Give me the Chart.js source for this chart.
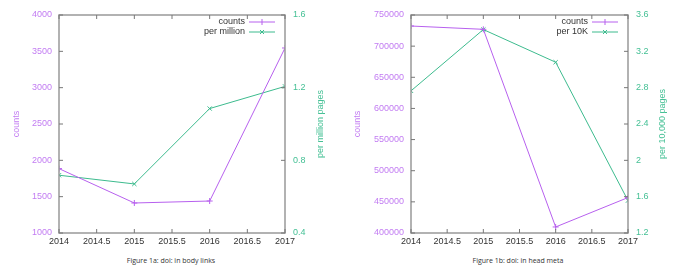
<!DOCTYPE html>
<html>
<head>
<meta charset="utf-8">
<script src="https://cdn.jsdelivr.net/npm/chart.js@4"></script>
<style>
  body { margin: 0; background: #fff; width: 673px; height: 268px; position: relative; overflow: hidden; }
  canvas { position: absolute; top: 0; }
  .cap { position: absolute; top: 256px; font: 7px "Open Sans", sans-serif; color: #333; white-space: nowrap; transform: translateX(-50%); }
</style>
</head>
<body>
<canvas id="chartA" width="335" height="254" style="left:0"></canvas>
<canvas id="chartB" width="338" height="254" style="left:335px"></canvas>
<div class="cap" style="left:171px">Figure 1a: doi: in body links</div>
<div class="cap" style="left:518px">Figure 1b: doi: in head meta</div>
<script>
// anos (eixo x)
const years = [2014, 2015, 2016, 2017];
const xTicks = [2014, 2014.5, 2015, 2015.5, 2016, 2016.5, 2017];

// figura 1a
const bodyCounts = [1886, 1413, 1440, 3546];
const bodyPerMillion = [0.718, 0.670, 1.085, 1.207];
const bodyCountTicks = [1000, 1500, 2000, 2500, 3000, 3500, 4000];
const bodyRateTicks = [0.4, 0.8, 1.2, 1.6];

// figura 1b
const headCounts = [732300, 727000, 409700, 456900];
const headPer10K = [2.765, 3.44, 3.08, 1.557];
const headCountTicks = [400000, 450000, 500000, 550000, 600000, 650000, 700000, 750000];
const headRateTicks = [1.2, 1.6, 2.0, 2.4, 2.8, 3.2, 3.6];

const roxo = '#b760ee';
const roxoTexto = '#c27cf2';
const verde = '#3dbb8e';
const verdeTexto = '#45c095';
const fonte = 'Liberation Sans, Arial, sans-serif';

function pts(vals) {
    return years.map((y, i) => ({ x: y, y: vals[i] }));
}
function fmt(v) {
    return String(parseFloat(v.toFixed(2)));
}

// moldura, ticks para dentro, titulos dos eixos e legenda estilo gnuplot
const gnuplotLook = {
    id: 'gnuplotLook',
    afterDraw(chart, args, opts) {
        const ctx = chart.ctx;
        const a = chart.chartArea;
        const sx = chart.scales.x, sy = chart.scales.y, sy2 = chart.scales.y2;
        ctx.save();
        ctx.strokeStyle = '#999';
        ctx.lineWidth = 1.5;
        ctx.strokeRect(a.left, a.top, a.right - a.left, a.bottom - a.top);
        ctx.lineWidth = 1;
        ctx.strokeStyle = '#777';
        ctx.beginPath();
        sx.ticks.forEach(t => {
            const px = sx.getPixelForValue(t.value);
            ctx.moveTo(px, a.bottom); ctx.lineTo(px, a.bottom - 4);
            ctx.moveTo(px, a.top); ctx.lineTo(px, a.top + 4);
        });
        sy.ticks.forEach(t => {
            const py = sy.getPixelForValue(t.value);
            ctx.moveTo(a.left, py); ctx.lineTo(a.left + 4, py);
        });
        sy2.ticks.forEach(t => {
            const py = sy2.getPixelForValue(t.value);
            ctx.moveTo(a.right, py); ctx.lineTo(a.right - 4, py);
        });
        ctx.stroke();

        // titulos
        ctx.font = '9px ' + fonte;
        ctx.textAlign = 'center';
        ctx.textBaseline = 'middle';
        const my = 124;
        ctx.fillStyle = roxoTexto;
        ctx.translate(opts.leftTitleX, my);
        ctx.rotate(-Math.PI / 2);
        ctx.fillText(opts.leftTitle, 0, 0);
        ctx.setTransform(1, 0, 0, 1, 0, 0);
        ctx.fillStyle = verdeTexto;
        ctx.translate(opts.rightTitleX, my);
        ctx.rotate(-Math.PI / 2);
        ctx.fillText(opts.rightTitle, 0, 0);
        ctx.setTransform(1, 0, 0, 1, 0, 0);

        // legenda
        ctx.textAlign = 'right';
        chart.data.datasets.forEach((ds, i) => {
            const ly = a.top + 7 + i * 10;
            ctx.fillStyle = '#333';
            ctx.fillText(ds.label, a.right - 40, ly);
            ctx.strokeStyle = ds.borderColor;
            ctx.beginPath();
            ctx.moveTo(a.right - 36, ly); ctx.lineTo(a.right - 10, ly);
            const cx = a.right - 23;
            if (ds.pointStyle === 'cross') {
                ctx.moveTo(cx, ly - 3); ctx.lineTo(cx, ly + 3);
            } else {
                ctx.moveTo(cx - 2, ly - 2); ctx.lineTo(cx + 2, ly + 2);
                ctx.moveTo(cx - 2, ly + 2); ctx.lineTo(cx + 2, ly - 2);
            }
            ctx.stroke();
        });
        ctx.restore();
    }
};

function makeChart(id, counts, rate, rateLabel, countTicks, rateTicks, leftW, rightW, titles) {
    const ctx = document.getElementById(id).getContext('2d');
    return new Chart(ctx, {
        type: 'line',
        data: {
            datasets: [
                {
                    label: 'counts',
                    data: pts(counts),
                    yAxisID: 'y',
                    borderColor: roxo,
                    backgroundColor: roxo,
                    borderWidth: 1,
                    pointStyle: 'cross',
                    pointRadius: 3,
                    pointBorderWidth: 1,
                    tension: 0
                },
                {
                    label: rateLabel,
                    data: pts(rate),
                    yAxisID: 'y2',
                    borderColor: verde,
                    backgroundColor: verde,
                    borderWidth: 1,
                    pointStyle: 'crossRot',
                    pointRadius: 3,
                    pointBorderWidth: 1,
                    tension: 0
                }
            ]
        },
        options: {
            responsive: false,
            animation: false,
            devicePixelRatio: 1,
            layout: { padding: { top: 15, left: 0, right: 0, bottom: 0 } },
            plugins: {
                legend: { display: false },
                tooltip: { enabled: false },
                gnuplotLook: titles
            },
            scales: {
                x: {
                    type: 'linear',
                    min: years[0],
                    max: years[years.length - 1],
                    afterBuildTicks: s => { s.ticks = xTicks.map(v => ({ value: v })); },
                    grid: { display: false, drawTicks: false },
                    border: { display: false },
                    ticks: { color: '#333', font: { size: 9, family: fonte }, padding: 3, maxRotation: 0, autoSkip: false, callback: v => fmt(v) },
                    afterFit: s => { s.height = 21; }
                },
                y: {
                    position: 'left',
                    min: countTicks[0],
                    max: countTicks[countTicks.length - 1],
                    afterBuildTicks: s => { s.ticks = countTicks.map(v => ({ value: v })); },
                    grid: { display: false, drawTicks: false },
                    border: { display: false },
                    ticks: { color: roxoTexto, font: { size: 9, family: fonte }, padding: 7, autoSkip: false, callback: v => fmt(v) },
                    afterFit: s => { s.width = leftW; }
                },
                y2: {
                    position: 'right',
                    min: rateTicks[0],
                    max: rateTicks[rateTicks.length - 1],
                    afterBuildTicks: s => { s.ticks = rateTicks.map(v => ({ value: v })); },
                    grid: { display: false, drawTicks: false },
                    border: { display: false },
                    ticks: { color: verdeTexto, font: { size: 9, family: fonte }, padding: 8, autoSkip: false, callback: v => fmt(v) },
                    afterFit: s => { s.width = rightW; }
                }
            }
        },
        plugins: [gnuplotLook]
    });
}

makeChart('chartA', bodyCounts, bodyPerMillion, 'per million', bodyCountTicks, bodyRateTicks, 59, 50,
    { leftTitle: 'counts', leftTitleX: 17, rightTitle: 'per million pages', rightTitleX: 321 });
makeChart('chartB', headCounts, headPer10K, 'per 10K', headCountTicks, headRateTicks, 76, 45,
    { leftTitle: 'counts', leftTitleX: 23, rightTitle: 'per 10,000 pages', rightTitleX: 328 });
</script>
</body>
</html>
